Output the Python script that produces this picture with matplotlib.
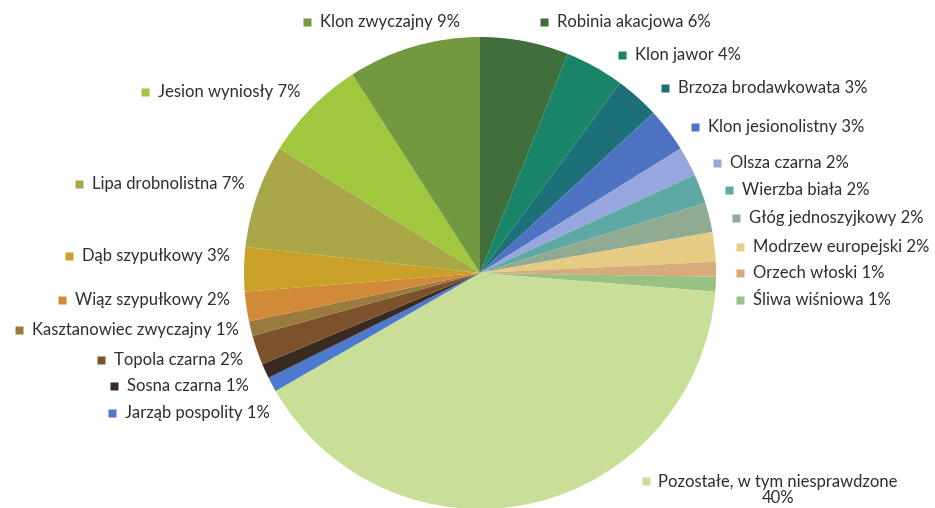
import matplotlib.pyplot as plt

# gatunki drzew, kolejnosc zgodnie z ruchem wskazowek zegara od godziny 12
names = ['Robinia akacjowa', 'Klon jawor', 'Brzoza brodawkowata', 'Klon jesionolistny',
         'Olsza czarna', 'Wierzba biała', 'Głóg jednoszyjkowy', 'Modrzew europejski',
         'Orzech włoski', 'Śliwa wiśniowa', 'Pozostałe, w tym niesprawdzone',
         'Jarząb pospolity', 'Sosna czarna', 'Topola czarna', 'Kasztanowiec zwyczajny',
         'Wiąz szypułkowy', 'Dąb szypułkowy', 'Lipa drobnolistna', 'Jesion wyniosły',
         'Klon zwyczajny']
percent = [6, 4, 3, 3, 2, 2, 2, 2, 1, 1, 40, 1, 1, 2, 1, 2, 3, 7, 7, 9]

colors = ['#3f6e3c', '#198467', '#1d6f78', '#4f73c3', '#97a6dc', '#5ea9a3', '#90ab92',
          '#e5cb83', '#d9aa7b', '#98c282', '#c9de96', '#4d79cf', '#3a2b22', '#7b522b',
          '#9b7a3e', '#d08a38', '#c9a126', '#a9a747', '#a0c73e', '#72993f']

# polozenie etykiet (px): poczatek tekstu, srodek wysokosci
label_x = [557, 635, 678, 708, 730, 742, 749, 753, 753, 753, 658,
           125, 127, 114, 32, 75, 82, 92, 158, 320]
label_y = [22, 55, 88, 127, 163, 190, 218, 247, 273, 300, 490,
           413, 386, 360, 330, 300, 256, 184, 92, 22]

W, H = 935, 508
cx, cy, r = 480, 273, 236

fig = plt.figure(figsize=(W / 100, H / 100), dpi=100)
fig.patch.set_facecolor('white')

ax = fig.add_axes([(cx - r) / W, (H - cy - r) / H, 2 * r / W, 2 * r / H])
ax.pie(percent, colors=colors, startangle=90, counterclock=False, radius=1,
       wedgeprops={'linewidth': 0})
ax.set_xlim(-1, 1)
ax.set_ylim(-1, 1)
ax.set_aspect('equal')
ax.axis('off')

# etykiety w ukladzie pikseli
lab = fig.add_axes([0, 0, 1, 1], zorder=5)
lab.set_xlim(0, W)
lab.set_ylim(H, 0)
lab.axis('off')
lab.patch.set_alpha(0)

for i in range(len(names)):
    if names[i].startswith('Pozostałe'):
        txt = names[i] + '\n' + str(percent[i]) + '%'
        lab.plot(label_x[i] - 12, label_y[i] - 9, 's', ms=5.5, color=colors[i], mec='none')
        lab.text(label_x[i], label_y[i], txt, ha='left', va='center', multialignment='center',
                 fontsize=12, family='Lato', color='#2e2e2e', linespacing=1.05)
    else:
        txt = names[i] + ' ' + str(percent[i]) + '%'
        lab.plot(label_x[i] - 13, label_y[i], 's', ms=5.5, color=colors[i], mec='none')
        lab.text(label_x[i], label_y[i], txt, ha='left', va='center',
                 fontsize=12, family='Lato', color='#2e2e2e')

fig.savefig('out.png', dpi=100)
